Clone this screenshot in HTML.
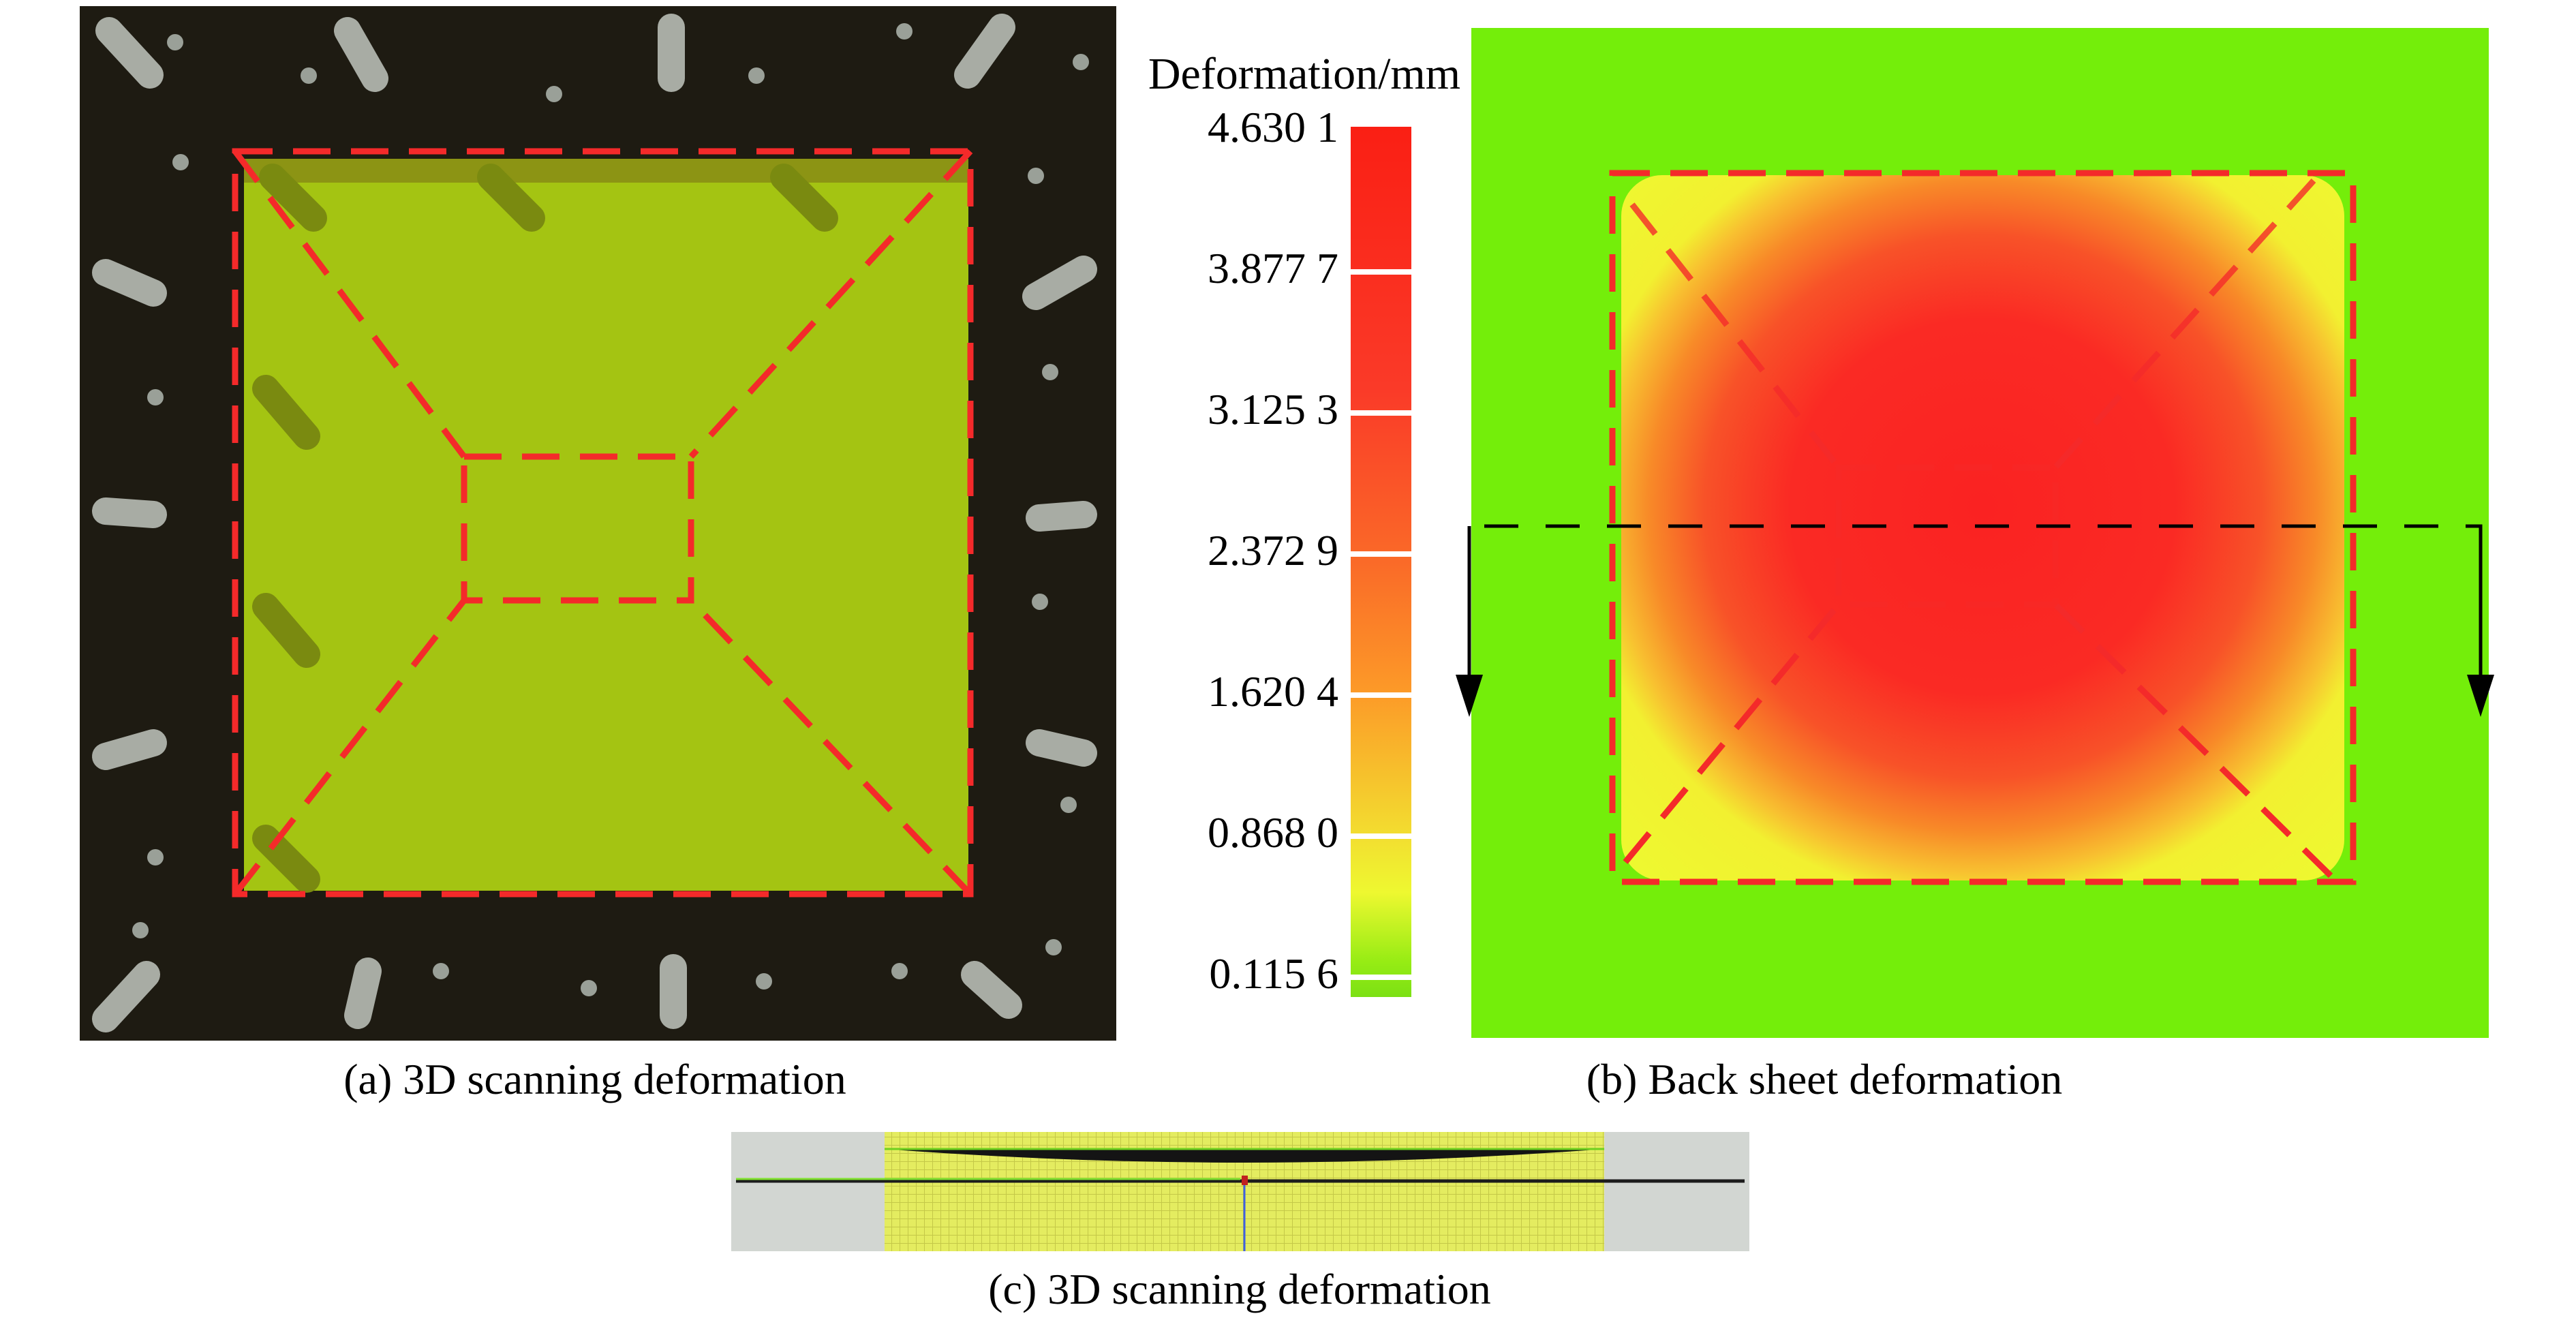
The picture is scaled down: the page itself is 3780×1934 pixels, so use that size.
<!DOCTYPE html>
<html><head><meta charset="utf-8"><style>
html,body{margin:0;padding:0;background:#fff;}
svg{display:block;font-family:"Liberation Serif",serif;}
</style></head><body>
<svg width="3780" height="1934" viewBox="0 0 3780 1934" xmlns="http://www.w3.org/2000/svg">
<defs>
<radialGradient id="heat" cx="0.5" cy="0.47" r="0.7">
<stop offset="0" stop-color="#fa2222"/>
<stop offset="0.38" stop-color="#fa2a24"/>
<stop offset="0.55" stop-color="#f85228"/>
<stop offset="0.66" stop-color="#f88a28"/>
<stop offset="0.74" stop-color="#f8c030"/>
<stop offset="0.8" stop-color="#f2f030"/>
<stop offset="1" stop-color="#eef830"/>
</radialGradient>
<linearGradient id="cb" x1="0" y1="0" x2="0" y2="1">
<stop offset="0" stop-color="#fa1f14"/>
<stop offset="0.3" stop-color="#fa3a28"/>
<stop offset="0.5" stop-color="#fa6a28"/>
<stop offset="0.65" stop-color="#fc9a28"/>
<stop offset="0.82" stop-color="#f2e030"/>
<stop offset="0.88" stop-color="#eef830"/>
<stop offset="0.96" stop-color="#96ec14"/>
<stop offset="1" stop-color="#7ce014"/>
</linearGradient>
<pattern id="grid" width="12" height="12" patternUnits="userSpaceOnUse"><rect width="12" height="12" fill="#e4ec60"/><path d="M0 0H12M0 0V12" stroke="#c4c848" stroke-width="2"/></pattern>
</defs>

<g>
<rect x="117" y="9" width="1521" height="1518" fill="#1e1b12"/>
<rect x="358" y="233" width="1063" height="1074" fill="#a4c412"/>
<rect x="358" y="233" width="1063" height="35" fill="#8c9414"/>
<g stroke="#7a8a10" stroke-width="40" stroke-linecap="round">
<line x1="400" y1="260" x2="460" y2="320"/><line x1="720" y1="260" x2="780" y2="320"/><line x1="1150" y1="260" x2="1210" y2="320"/>
<line x1="390" y1="570" x2="450" y2="640"/><line x1="390" y1="890" x2="450" y2="960"/><line x1="390" y1="1230" x2="450" y2="1290"/>
</g>
<g stroke="#a8aca4" stroke-width="40" stroke-linecap="round">
<line x1="160" y1="45" x2="220" y2="110"/><line x1="510" y1="45" x2="550" y2="115"/><line x1="985" y1="40" x2="985" y2="115"/><line x1="1470" y1="40" x2="1420" y2="110"/>
<line x1="155" y1="400" x2="225" y2="430"/><line x1="155" y1="750" x2="225" y2="755"/><line x1="155" y1="1110" x2="225" y2="1090"/><line x1="155" y1="1495" x2="215" y2="1430"/>
<line x1="1590" y1="395" x2="1520" y2="435"/><line x1="1590" y1="755" x2="1525" y2="760"/><line x1="1590" y1="1105" x2="1525" y2="1090"/><line x1="1480" y1="1475" x2="1430" y2="1430"/>
<line x1="525" y1="1490" x2="540" y2="1425"/><line x1="988" y1="1490" x2="988" y2="1420"/>
</g>
<g fill="#9aa098">
<circle cx="257" cy="62" r="12"/><circle cx="453" cy="111" r="12"/><circle cx="813" cy="138" r="12"/><circle cx="1110" cy="111" r="12"/><circle cx="1327" cy="46" r="12"/><circle cx="1586" cy="91" r="12"/>
<circle cx="265" cy="238" r="12"/><circle cx="228" cy="583" r="12"/><circle cx="228" cy="1258" r="12"/><circle cx="206" cy="1365" r="12"/>
<circle cx="1520" cy="258" r="12"/><circle cx="1541" cy="546" r="12"/><circle cx="1526" cy="883" r="12"/><circle cx="1568" cy="1181" r="12"/><circle cx="1546" cy="1390" r="12"/>
<circle cx="647" cy="1425" r="12"/><circle cx="864" cy="1450" r="12"/><circle cx="1121" cy="1440" r="12"/><circle cx="1320" cy="1425" r="12"/>
</g>
<g fill="none" stroke="#f42a2a" stroke-width="9" stroke-dasharray="55,30">
<rect x="345" y="222" width="1079" height="1090"/>
<rect x="681" y="670" width="333" height="211"/>
<line x1="345" y1="222" x2="681" y2="670"/><line x1="1424" y1="222" x2="1014" y2="670"/>
<line x1="345" y1="1312" x2="681" y2="881"/><line x1="1424" y1="1312" x2="1014" y2="881"/>
</g>
</g>

<g id="cbar">
<text x="1914" y="130" font-size="66" text-anchor="middle">Deformation/mm</text>
<rect x="1982" y="186" width="89" height="1277" fill="url(#cb)"/>
</g>

<g>
<rect x="2159" y="41" width="1493" height="1482" fill="#74ee0a"/>
<rect x="2379" y="257" width="1061" height="1035" rx="60" fill="url(#heat)"/>
<g fill="none" stroke="#f42a2a" stroke-width="9" stroke-dasharray="55,30">
<rect x="2366" y="254" width="1087" height="1040"/>
<rect x="2698" y="686" width="318" height="201" stroke-opacity="0.35"/>
<line x1="2395" y1="300" x2="2698" y2="686" stroke-opacity="0.8"/><line x1="3395" y1="265" x2="3016" y2="686" stroke-opacity="0.8"/>
<line x1="2385" y1="1265" x2="2698" y2="887"/><line x1="3420" y1="1285" x2="3016" y2="887"/>
</g>
<g>
<path d="M2156 1020V772H3640V1020" fill="none" stroke="#000" stroke-width="5" stroke-dasharray="50,40"/>
<line x1="2156" y1="772" x2="2156" y2="1000" stroke="#000" stroke-width="5"/>
<line x1="3640" y1="772" x2="3640" y2="1000" stroke="#000" stroke-width="5"/>
<polygon points="2136,990 2176,990 2156,1052" fill="#000"/>
<polygon points="3620,990 3660,990 3640,1052" fill="#000"/>
</g>
</g>

<g>
<rect x="1073" y="1661" width="1494" height="175" fill="#d2d6d2"/>
<rect x="1298" y="1661" width="1056" height="175" fill="url(#grid)"/>
<path d="M1298 1686 L2354 1686 Q1826 1726 1298 1686 Z" fill="#141414"/>
<path d="M1298 1686 H2354" stroke="#70d020" stroke-width="3"/>
<path d="M1080 1733 H2560" stroke="#1c1c1c" stroke-width="5"/>
<path d="M1080 1730 H1820" stroke="#80e030" stroke-width="3"/>
<line x1="1826" y1="1733" x2="1826" y2="1836" stroke="#4060e0" stroke-width="3"/>
<rect x="1822" y="1725" width="9" height="14" fill="#c02020"/>
</g>

<g font-size="64" text-anchor="middle">
<text x="873" y="1605">(a) 3D scanning deformation</text>
<text x="2677" y="1605">(b) Back sheet deformation</text>
<text x="1819" y="1913">(c) 3D scanning deformation</text>
</g>

<script>
const tickLabels = ["4.630 1","3.877 7","3.125 3","2.372 9","1.620 4","0.868 0","0.115 6"];
const tickValues = [4.6301,3.8777,3.1253,2.3729,1.6204,0.8680,0.1156];
const ns = "http://www.w3.org/2000/svg";
const g = document.getElementById("cbar");
const vmax = 4.6301, vmin = 0.1156;
const yTop = 208, yBot = 1450;
function yScale(v){ return yTop + (vmax - v) / (vmax - vmin) * (yBot - yTop); }
tickValues.forEach(function(v, i){
  const t = document.createElementNS(ns, "text");
  t.setAttribute("x", 1964);
  t.setAttribute("y", yScale(v));
  t.setAttribute("font-size", 64);
  t.setAttribute("text-anchor", "end");
  t.textContent = tickLabels[i];
  
  
  g.appendChild(t);
  if (i > 0) {
    const l = document.createElementNS(ns, "rect");
    l.setAttribute("x", 1980);
    l.setAttribute("y", yScale(v) - 20);
    l.setAttribute("width", 93);
    l.setAttribute("height", 8);
    l.setAttribute("fill", "#fff");
    
    
    g.appendChild(l);
  }
});
</script>
</svg>
</body></html>
